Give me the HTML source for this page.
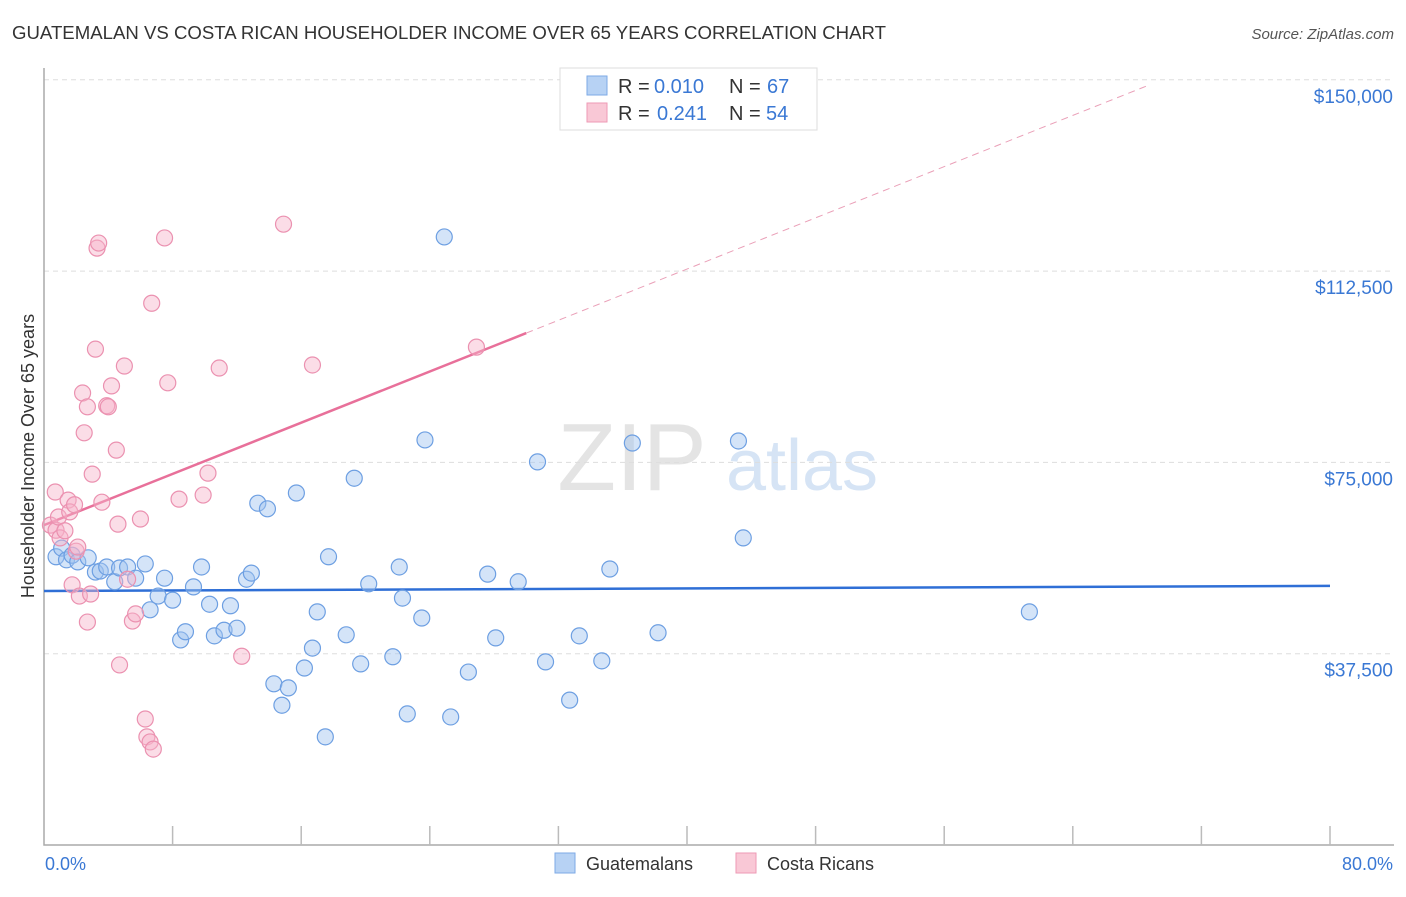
<!DOCTYPE html>
<html><head><meta charset="utf-8"><style>
body{margin:0;background:#fff;font-family:"Liberation Sans",sans-serif;}
svg text{font-family:"Liberation Sans",sans-serif;}
</style></head><body>
<svg id="chart" width="1406" height="892" xmlns="http://www.w3.org/2000/svg">
<text x="12" y="39" font-size="18" fill="#333" textLength="874" lengthAdjust="spacingAndGlyphs">GUATEMALAN VS COSTA RICAN HOUSEHOLDER INCOME OVER 65 YEARS CORRELATION CHART</text>
<text x="1394" y="39" font-size="15" fill="#555" font-style="italic" text-anchor="end">Source: ZipAtlas.com</text>
<g><text x="632" y="490" font-size="96" fill="#e4e4e4" font-family="Liberation Serif" text-anchor="middle">ZIP</text><text x="802" y="490" font-size="72" fill="#d6e4f5" text-anchor="middle">atlas</text></g>
<g id="grid"></g><g id="axes"></g><g id="lines"></g><g id="pts"></g>
<text transform="translate(34,456) rotate(-90)" font-size="18" fill="#333" text-anchor="middle">Householder Income Over 65 years</text>
<text x="45" y="870" font-size="18" fill="#3a78d4">0.0%</text>
<text x="1393" y="870" font-size="18" fill="#3a78d4" text-anchor="end">80.0%</text>
<g>
<rect x="560" y="68" width="257" height="62" fill="#fff" stroke="#ddd"/>
<rect x="587" y="76" width="20" height="19" fill="#b7d2f4" stroke="#7eaae6"/>
<rect x="587" y="103" width="20" height="19" fill="#f9c8d6" stroke="#ee9ab5"/>
<text x="618" y="93" font-size="20" fill="#333">R =</text>
<text x="654" y="93" font-size="20" fill="#3a78d4">0.010</text>
<text x="729" y="93" font-size="20" fill="#333">N =</text>
<text x="767" y="93" font-size="20" fill="#3a78d4">67</text>
<text x="618" y="120" font-size="20" fill="#333">R =</text>
<text x="657" y="120" font-size="20" fill="#3a78d4">0.241</text>
<text x="729" y="120" font-size="20" fill="#333">N =</text>
<text x="766" y="120" font-size="20" fill="#3a78d4">54</text>
</g>
<g>
<rect x="555" y="853" width="20" height="20" fill="#b7d2f4" stroke="#7eaae6"/>
<text x="586" y="870" font-size="18" fill="#333">Guatemalans</text>
<rect x="736" y="853" width="20" height="20" fill="#f9c8d6" stroke="#ee9ab5"/>
<text x="767" y="870" font-size="18" fill="#333">Costa Ricans</text>
</g>
</svg>
<script>
const yTicks=[37500,75000,112500,150000];
const yTickLabels=["$37,500","$75,000","$112,500","$150,000"];
const xTicks=[0,8,16,24,32,40,48,56,64,72,80];
const blueX=[0.75,1.1,1.4,1.75,2.1,2.75,3.2,3.5,3.9,4.4,4.7,5.2,5.7,6.3,6.6,7.1,7.5,8.0,8.5,8.8,9.3,9.8,10.3,10.6,11.2,11.6,12.0,12.6,12.9,13.3,13.9,14.3,14.8,15.2,15.7,16.2,16.7,17.0,17.5,17.7,18.8,19.3,19.7,20.2,21.7,22.1,22.3,22.6,23.5,23.7,24.9,25.3,26.4,27.6,28.1,29.5,30.7,31.2,32.7,33.3,34.7,35.2,36.6,38.2,43.2,43.5,61.3];
const blueY=[56.5,58.2,55.9,56.8,55.5,56.3,53.5,53.7,54.5,51.6,54.3,54.5,52.3,55.1,46.1,48.8,52.3,48.0,40.2,41.8,50.6,54.5,47.2,41.0,42.1,46.9,42.5,52.1,53.3,67.0,65.9,31.6,27.4,30.8,69.0,34.7,38.6,45.7,21.2,56.5,41.2,71.9,35.5,51.2,36.9,54.5,48.4,25.7,44.5,79.4,119.2,25.1,33.9,53.1,40.6,51.6,75.1,35.9,28.4,41.0,36.1,54.1,78.8,41.6,79.2,60.2,45.7];
const pinkX=[0.4,0.7,0.75,0.9,1.0,1.3,1.5,1.6,1.75,1.9,2.0,2.1,2.2,2.4,2.5,2.7,2.7,2.9,3.0,3.2,3.3,3.4,3.6,3.9,4.0,4.2,4.5,4.6,4.7,5.0,5.2,5.5,5.7,6.0,6.3,6.4,6.6,6.8,6.7,7.5,7.7,8.4,9.9,10.2,10.9,12.3,14.9,16.7,26.9];
const pinkY=[62.7,69.2,61.7,64.3,60.2,61.6,67.6,65.3,51.0,66.7,57.6,58.4,48.8,88.6,80.8,43.7,85.9,49.2,72.7,97.2,117.0,118.0,67.2,86.1,85.9,90.0,77.4,62.9,35.3,93.9,52.1,43.9,45.3,63.9,24.7,21.2,20.2,18.8,106.2,119.0,90.6,67.8,68.6,72.9,93.5,37.0,121.7,94.1,97.6];
const blueTrend=[49.8,50.8];
const pinkTrend=[62.7,1.255];
const NS="http://www.w3.org/2000/svg";
const sx=v=>44+v/80*1286, sy=v=>845-v/37500*191.3;
function mk(tag,a,p){const e=document.createElementNS(NS,tag);for(const k in a)e.setAttribute(k,a[k]);p.appendChild(e);return e;}
const grid=document.getElementById('grid'),axes=document.getElementById('axes'),lines=document.getElementById('lines'),pts=document.getElementById('pts');
yTicks.forEach((t,i)=>{
 const l=mk('line',{x1:44,x2:1394,y1:sy(t),y2:sy(t),stroke:'#ddd','stroke-dasharray':'5,4'},grid);
 
 
 const tx=mk('text',{x:1393,y:sy(t)+23,'font-size':19,fill:'#3a78d4','text-anchor':'end'},grid);
 tx.textContent=yTickLabels[i];
 
 
});
const ax=mk('path',{d:'M44,68V845H1394',fill:'none',stroke:'#aaa','stroke-width':1.5},axes);


xTicks.forEach(t=>{if(t===0)return;
 const l=mk('line',{x1:sx(t),x2:sx(t),y1:826,y2:845,stroke:'#bbb','stroke-width':1.5},axes);
 
 
});
const bl=mk('line',{x1:sx(0),x2:sx(80),y1:sy(blueTrend[0]*1000),y2:sy(blueTrend[1]*1000),stroke:'#2f6fd6','stroke-width':2.5},lines);


const py=x=>sy((pinkTrend[0]+pinkTrend[1]*x)*1000);
const pl=mk('line',{x1:sx(0),x2:sx(30),y1:py(0),y2:py(30),stroke:'#e8709a','stroke-width':2.5},lines);


const pd=mk('line',{x1:sx(30),x2:sx(68.8),y1:py(30),y2:py(68.8),stroke:'#eaa0b8','stroke-width':1,'stroke-dasharray':'7,5'},lines);


blueX.forEach((x,i)=>{
 const c=mk('circle',{cx:sx(x),cy:sy(blueY[i]*1000),r:8,fill:'rgba(160,196,240,0.45)',stroke:'#6d9fe2','stroke-width':1.2},pts);
 
 
});
pinkX.forEach((x,i)=>{
 const c=mk('circle',{cx:sx(x),cy:sy(pinkY[i]*1000),r:8,fill:'rgba(246,180,202,0.45)',stroke:'#eb91b0','stroke-width':1.2},pts);
 
 
});
</script>
</body></html>
